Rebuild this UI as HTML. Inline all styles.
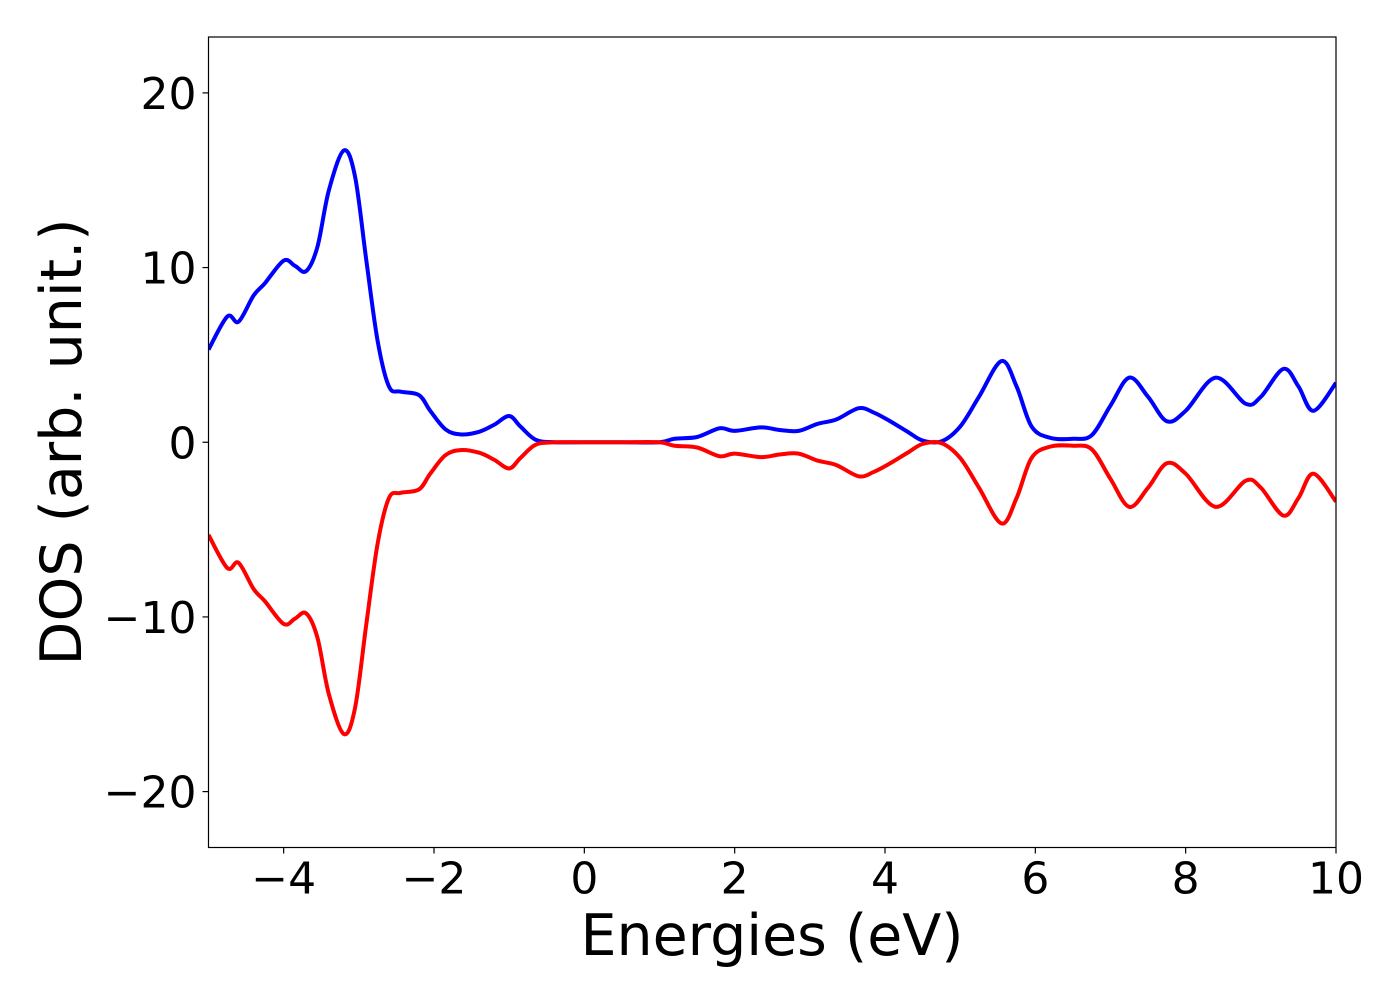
<!DOCTYPE html>
<html><head><meta charset="utf-8"><style>
body{margin:0;background:#fff;}
svg text{font-family:"DejaVu Sans","Liberation Sans",sans-serif;fill:#000;}
</style></head><body>
<svg id="chart" width="1400" height="1000" viewBox="0 0 1400 1000" xmlns="http://www.w3.org/2000/svg">
<rect width="1400" height="1000" fill="#fff"/>
<g id="plot"></g>
<g id="axes"></g>
<text x="772" y="955" font-size="57" text-anchor="middle">Energies (eV)</text>
<text transform="translate(81,442) rotate(-90)" font-size="57" text-anchor="middle">DOS (arb. unit.)</text>
</svg>
<script>
const energies=[-5,-4.75,-4.6,-4.4,-4.25,-4,-3.85,-3.7,-3.55,-3.4,-3.2,-3.05,-2.9,-2.75,-2.6,-2.45,-2.2,-2.05,-1.85,-1.65,-1.4,-1.2,-1.0,-0.85,-0.65,-0.4,0,0.5,1.0,1.2,1.5,1.8,2.0,2.35,2.6,2.85,3.1,3.35,3.65,3.85,4.05,4.3,4.5,4.75,5.0,5.25,5.55,5.75,5.95,6.2,6.5,6.75,7.0,7.25,7.5,7.75,8.0,8.4,8.8,9.0,9.3,9.5,9.7,10];
const dosUp=[5.3,7.2,6.9,8.4,9.1,10.4,10.1,9.8,11.2,14.4,16.7,15.2,10.4,5.8,3.2,2.9,2.7,1.8,0.75,0.45,0.6,1.0,1.5,0.9,0.15,0,0,0,0,0.2,0.3,0.8,0.65,0.85,0.7,0.65,1.05,1.3,1.95,1.7,1.25,0.6,0.1,0.05,0.9,2.6,4.65,3.2,0.9,0.25,0.2,0.4,2.1,3.7,2.6,1.2,1.8,3.7,2.2,2.6,4.2,3.2,1.8,3.4];
const dosDown=dosUp.map(v=>-v);
const xTicks=[-4,-2,0,2,4,6,8,10];
const yTicks=[-20,-10,0,10,20];
const xMin=-5,xMax=10,yMin=-23.2,yMax=23.2;
const L=208.5,R=1336,T=37,B=847.5;
const sx=v=>L+(v-xMin)/(xMax-xMin)*(R-L);
const sy=v=>B-(v-yMin)/(yMax-yMin)*(B-T);
const NS="http://www.w3.org/2000/svg";
function pathFor(xs,ys){
  const p=xs.map((x,i)=>[sx(x),sy(ys[i])]);
  let d=`M${p[0][0]},${p[0][1]}`;
  for(let i=0;i<p.length-1;i++){
    const p0=p[Math.max(i-1,0)],p1=p[i],p2=p[i+1],p3=p[Math.min(i+2,p.length-1)];
    const c1=[p1[0]+(p2[0]-p0[0])/6,p1[1]+(p2[1]-p0[1])/6];
    const c2=[p2[0]-(p3[0]-p1[0])/6,p2[1]-(p3[1]-p1[1])/6];
    d+=` C${c1[0]},${c1[1]} ${c2[0]},${c2[1]} ${p2[0]},${p2[1]}`;
  }
  return d;
}
const plot=document.getElementById('plot');
const axes=document.getElementById('axes');
const clip=document.createElementNS(NS,'clipPath');clip.setAttribute('id','cp');
const cr=document.createElementNS(NS,'rect');cr.setAttribute('x',L);cr.setAttribute('y',T);cr.setAttribute('width',R-L);cr.setAttribute('height',B-T);
clip.appendChild(cr);plot.appendChild(clip);
[[dosUp,'#0000ff','dos-up-line'],[dosDown,'#ff0000','dos-down-line']].forEach(([ys,c,n])=>{
  const el=document.createElementNS(NS,'path');
  el.setAttribute('d',pathFor(energies,ys));
  el.setAttribute('fill','none');el.setAttribute('stroke',c);el.setAttribute('stroke-width','4');
  el.setAttribute('stroke-linejoin','round');
  el.setAttribute('clip-path','url(#cp)');
  
  
  plot.appendChild(el);
});
const frame=document.createElementNS(NS,'rect');
frame.setAttribute('x',L);frame.setAttribute('y',T);frame.setAttribute('width',R-L);frame.setAttribute('height',B-T);
frame.setAttribute('fill','none');frame.setAttribute('stroke','#000');frame.setAttribute('stroke-width','1.2');


axes.appendChild(frame);
xTicks.forEach(v=>{
  const x=sx(v);
  const t=document.createElementNS(NS,'line');
  t.setAttribute('x1',x);t.setAttribute('x2',x);t.setAttribute('y1',B);t.setAttribute('y2',B+6);t.setAttribute('stroke','#000');t.setAttribute('stroke-width','1.2');
  
  
  axes.appendChild(t);
  const tx=document.createElementNS(NS,'text');
  tx.setAttribute('x',x);tx.setAttribute('y',B+46);tx.setAttribute('font-size','44');tx.setAttribute('text-anchor','middle');
  tx.textContent=(v<0?'\u2212':'')+Math.abs(v);
  
  
  axes.appendChild(tx);
});
yTicks.forEach(v=>{
  const y=sy(v);
  const t=document.createElementNS(NS,'line');
  t.setAttribute('x1',L-6);t.setAttribute('x2',L);t.setAttribute('y1',y);t.setAttribute('y2',y);t.setAttribute('stroke','#000');t.setAttribute('stroke-width','1.2');
  
  
  axes.appendChild(t);
  const tx=document.createElementNS(NS,'text');
  tx.setAttribute('x',L-12);tx.setAttribute('y',y+16);tx.setAttribute('font-size','44');tx.setAttribute('text-anchor','end');
  tx.textContent=(v<0?'\u2212':'')+Math.abs(v);
  
  
  axes.appendChild(tx);
});
</script>
</body></html>
